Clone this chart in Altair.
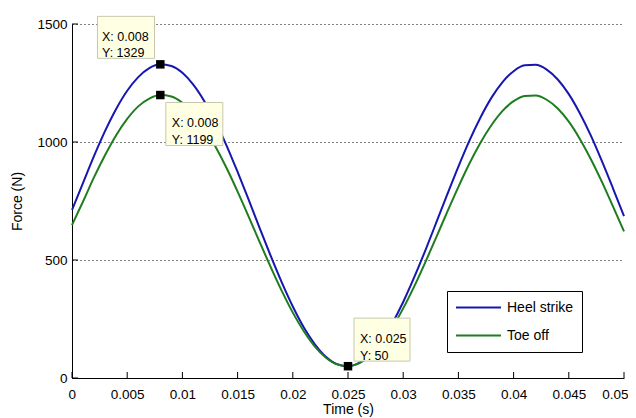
import altair as alt
import pandas as pd

# ---- data ----
time_ms = [0, 1, 2, 3, 4, 5, 6, 7, 8, 9, 10, 11, 12, 13, 14, 15, 16, 17, 18, 19, 20,
           21, 22, 23, 24, 25, 26, 27, 28, 29, 30, 31, 32, 33, 34, 35, 36, 37, 38, 39, 40,
           41, 42, 43, 44, 45, 46, 47, 48, 49, 50]
heel_strike = [712, 827, 941, 1047, 1140, 1217, 1275, 1313, 1329, 1322, 1293, 1242, 1172,
               1086, 985, 873, 756, 635, 517, 405, 303, 214, 143, 90, 59, 50, 64, 99, 156,
               231, 322, 427, 540, 659, 779, 896, 1006, 1104, 1188, 1254, 1300, 1325, 1327,
               1307, 1265, 1203, 1122, 1027, 919, 804, 686]
toe_off = [648, 748, 851, 945, 1029, 1098, 1151, 1184, 1199, 1193, 1166, 1121, 1058, 980,
           890, 790, 684, 576, 470, 369, 277, 198, 133, 86, 58, 50, 62, 94, 145, 213, 295,
           388, 490, 597, 705, 810, 909, 997, 1072, 1132, 1173, 1195, 1197, 1179, 1142,
           1086, 1013, 927, 831, 727, 621]
series_names = ["Heel strike", "Toe off"]
series_colors = ["#1717b0", "#1f7d1f"]

x_ticks = [0, 0.005, 0.01, 0.015, 0.02, 0.025, 0.03, 0.035, 0.04, 0.045, 0.05]
y_ticks = [0, 500, 1000, 1500]

tip_x = [0.008, 0.008, 0.025]
tip_y = [1329, 1199, 50]
tip_x_text = ["0.008", "0.008", "0.025"]

# ---- layout / style ----
W, H = 552, 354
FONT = "Liberation Sans"
# (box dx, box dy, box w, box h, text dx, text dy)
tip_layout = [(-34.3, -27, 57, 42, -58.3, -27.7),
              (34, 29, 57, 43, 11.5, 28.3),
              (34, -26.6, 56, 43, 12, -26.8)]

t_all = [m / 1000 for m in time_ms]
df = pd.DataFrame({
    "t": t_all + t_all,
    "force": heel_strike + toe_off,
    "series": [series_names[0]] * len(t_all) + [series_names[1]] * len(t_all),
})

x_scale = alt.Scale(domain=[0, 0.05], nice=False, zero=False)
y_scale = alt.Scale(domain=[0, 1500], nice=False)

x_axis = alt.Axis(values=x_ticks, format="~g", title="Time (s)", grid=False, tickSize=0,
                  labelPadding=9, titlePadding=2, domainColor="black", labelColor="black",
                  titleColor="black", labelFontSize=13.5, titleFontSize=14,
                  labelFont=FONT, titleFont=FONT, titleFontWeight="normal",
                  labelFlush=True, labelFlushOffset=4)
y_axis = alt.Axis(values=y_ticks, format="d", title="Force (N)", grid=True,
                  gridDash=[1, 3], gridColor="black", gridOpacity=1, tickSize=0,
                  labelPadding=5, titlePadding=12, domainColor="black", labelColor="black",
                  titleColor="black", labelFontSize=13.5, titleFontSize=14,
                  labelFont=FONT, titleFont=FONT, titleFontWeight="normal",
                  labelFlush=False)

lines = alt.Chart(df).mark_line(strokeWidth=2, interpolate="monotone").encode(
    x=alt.X("t:Q", scale=x_scale, axis=x_axis),
    y=alt.Y("force:Q", scale=y_scale, axis=y_axis),
    color=alt.Color("series:N", scale=alt.Scale(domain=series_names, range=series_colors),
                    legend=alt.Legend(title=None, orient="none", legendX=375, legendY=267,
                                      symbolType="stroke", symbolSize=2025,
                                      symbolStrokeWidth=2, strokeColor="black",
                                      fillColor="white", padding=8, clipHeight=17,
                                      rowPadding=11, labelFontSize=14, labelFont=FONT,
                                      labelColor="black", labelOffset=5)),
)

xt = alt.Chart(pd.DataFrame({"t": x_ticks})).mark_rule(color="black", strokeWidth=1).encode(
    x=alt.X("t:Q", scale=x_scale), y=alt.value(H), y2=alt.value(H - 6))
yt = alt.Chart(pd.DataFrame({"force": y_ticks})).mark_rule(color="black", strokeWidth=1).encode(
    y=alt.Y("force:Q", scale=y_scale), x=alt.value(0), x2=alt.value(6))

layers = [lines, xt, yt]
for i in range(len(tip_x)):
    bdx, bdy, bw, bh, tdx, tdy = tip_layout[i]
    tdf = pd.DataFrame({"t": [tip_x[i]], "force": [tip_y[i]],
                        "label": [f"X: {tip_x_text[i]}\nY: {tip_y[i]}"]})
    base = alt.Chart(tdf)
    box = base.mark_rect(width=bw, height=bh, fill="#ffffe3", stroke="#c8c8b0",
                         strokeWidth=1, xOffset=bdx, yOffset=bdy).encode(
        x=alt.X("t:Q", scale=x_scale), y=alt.Y("force:Q", scale=y_scale))
    txt = base.mark_text(align="left", baseline="middle", lineBreak="\n", lineHeight=16.5,
                         fontSize=12.5, font=FONT, color="black", dx=tdx, dy=tdy).encode(
        x=alt.X("t:Q", scale=x_scale), y=alt.Y("force:Q", scale=y_scale), text="label:N")
    mk = base.mark_square(size=72, color="black", opacity=1, filled=True).encode(
        x=alt.X("t:Q", scale=x_scale), y=alt.Y("force:Q", scale=y_scale))
    layers += [box, txt, mk]

chart = alt.layer(*layers).properties(
    width=W, height=H,
    autosize=alt.AutoSizeParams(type="none"),
    padding={"left": 64, "top": 16, "right": 4, "bottom": 40},
    background="white",
).configure_view(stroke=None)

chart.save("out.html", embed_options={"renderer": "svg", "actions": False})
